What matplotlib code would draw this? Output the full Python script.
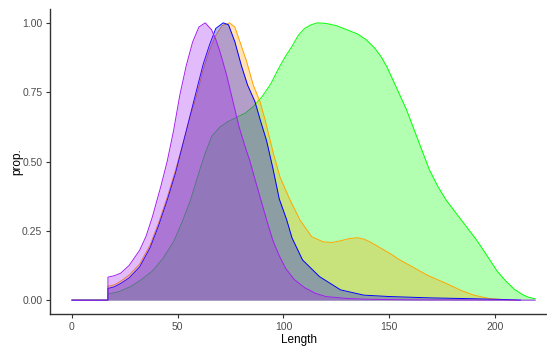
import matplotlib
matplotlib.use("Agg")
import matplotlib.pyplot as plt

# Courbes de densité (échelle max = 1)
green_x = [0, 17, 17, 22, 28, 33, 38, 43, 48, 52, 56, 60, 63, 66, 70, 74, 78, 82, 86, 90,
           94, 98, 101, 104, 107, 110, 113, 116, 120, 125, 130, 135, 139, 143, 146, 149,
           152, 155, 158, 161, 165, 169, 173, 177, 182, 187, 191, 195, 198, 201, 205,
           209, 213, 216, 219]
green_y = [0, 0, 0.022, 0.03, 0.05, 0.075, 0.105, 0.15, 0.21, 0.28, 0.36, 0.46, 0.53, 0.59,
           0.625, 0.645, 0.66, 0.675, 0.70, 0.735, 0.78, 0.84, 0.88, 0.915, 0.955, 0.98,
           0.993, 1.0, 0.998, 0.99, 0.975, 0.96, 0.94, 0.91, 0.88, 0.84, 0.79, 0.74, 0.69,
           0.63, 0.55, 0.47, 0.41, 0.36, 0.31, 0.26, 0.22, 0.175, 0.14, 0.105, 0.07, 0.04,
           0.02, 0.01, 0.005]

orange_x = [0, 17, 17, 20, 23, 27, 32, 37, 41, 45, 49, 53, 56, 59, 62, 65, 68, 71, 74.5,
            77, 79.4, 82.6, 85.7, 88.9, 91.3, 95.2, 98.3, 103.1, 107.8, 113.3, 118.8, 123,
            127, 131, 135, 138, 141, 145, 150, 155, 161, 168, 177, 184, 190, 197, 204, 210]
orange_y = [0, 0, 0.05, 0.055, 0.068, 0.09, 0.13, 0.20, 0.28, 0.37, 0.47, 0.58, 0.665,
            0.74, 0.83, 0.90, 0.955, 0.99, 1.0, 0.985, 0.932, 0.86, 0.776, 0.716, 0.65,
            0.53, 0.445, 0.361, 0.289, 0.229, 0.21, 0.208, 0.214, 0.222, 0.225, 0.22, 0.21,
            0.192, 0.17, 0.145, 0.12, 0.09, 0.06, 0.035, 0.018, 0.006, 0.002, 0]

blue_x = [0, 17, 17, 20, 23, 27, 32, 37, 41, 45, 49, 53, 56, 59, 62, 65, 68, 71.5, 74, 77,
          80, 83, 86.5, 89, 92, 95, 98, 101.5, 104, 109, 117, 127, 138, 150, 170, 190, 205,
          212]
blue_y = [0, 0, 0.042, 0.048, 0.06, 0.08, 0.12, 0.19, 0.27, 0.36, 0.46, 0.58, 0.67, 0.76,
          0.85, 0.92, 0.98, 1.0, 0.993, 0.932, 0.848, 0.776, 0.716, 0.65, 0.575, 0.475,
          0.365, 0.29, 0.225, 0.145, 0.085, 0.037, 0.018, 0.013, 0.008, 0.005, 0.002, 0]

purple_x = [0, 17, 17, 20, 23, 27, 32, 35, 38, 42, 45, 48, 51, 54, 57, 60, 63, 66, 68, 70,
            73, 76, 79, 82, 84, 86, 89, 92, 95, 98, 101, 105, 110, 115, 120, 130, 140, 160,
            219]
purple_y = [0, 0, 0.083, 0.088, 0.097, 0.125, 0.18, 0.23, 0.30, 0.41, 0.50, 0.61, 0.74,
            0.845, 0.93, 0.985, 1.0, 0.975, 0.94, 0.895, 0.815, 0.72, 0.625, 0.55, 0.505,
            0.45, 0.37, 0.29, 0.215, 0.16, 0.115, 0.075, 0.045, 0.025, 0.013, 0.006, 0.003,
            0.001, 0]

x_ticks = [0, 50, 100, 150, 200]
y_ticks = [0.0, 0.25, 0.5, 0.75, 1.0]
y_labels = ["0.00", "0.25", "0.50", "0.75", "1.00"]

series = [
    (green_x, green_y, "#00FF00"),
    (orange_x, orange_y, "#FFA500"),
    (blue_x, blue_y, "#0000FF"),
    (purple_x, purple_y, "#A020F0"),
]

plt.rcParams['font.family'] = ['Liberation Sans', 'DejaVu Sans']

fig = plt.figure(figsize=(5.47, 3.47), dpi=100)
ax = fig.add_axes([50 / 547, 33 / 347, 497 / 547, 305 / 347])

# une surface + son contour par groupe, comme ggplot
z = 2
for xs, ys, col in series:
    ax.fill_between(xs, ys, 0, color=col, alpha=0.3, linewidth=0, zorder=z)
    ax.plot(xs, ys, color=col, lw=0.7, zorder=z + 0.5)
    z += 1

ax.set_xlim(-10.4, 224.6)
ax.set_ylim(-0.05, 1.05)
ax.set_xticks(x_ticks)
ax.set_yticks(y_ticks)
ax.set_yticklabels(y_labels)

for side in ['top', 'right']:
    ax.spines[side].set_visible(False)
for side in ['left', 'bottom']:
    ax.spines[side].set_color('#333333')
    ax.spines[side].set_linewidth(1.0)

ax.tick_params(axis='both', colors='#333333', labelcolor='#4D4D4D', labelsize=7.5,
               length=3, width=0.8, pad=2.5)

ax.set_xlabel("Length", fontsize=8.5, color='black', labelpad=2)
ax.set_ylabel("prop.", fontsize=8.5, color='black', labelpad=-1)

fig.savefig("out.png", dpi=100)
